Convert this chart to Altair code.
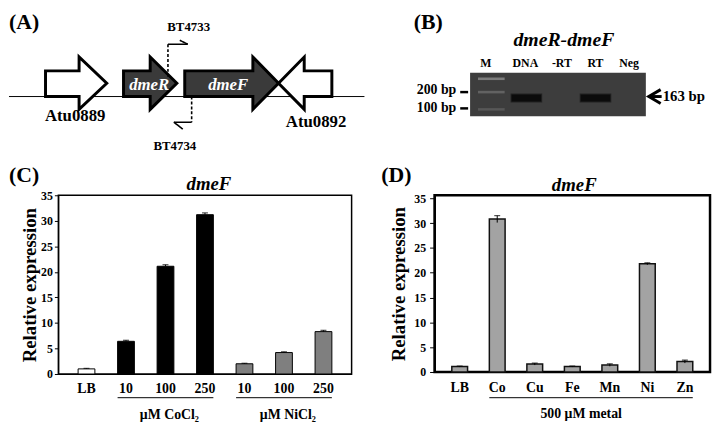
import altair as alt
import pandas as pd

SERIF = "Liberation Serif"

# ---------------- data ----------------
panel_labels = ["(A)", "(B)", "(C)", "(D)"]

# Panel A: gene map (map units)
gene_names = ["Atu0889", "dmeR", "dmeF", "Atu0892"]
gene_tail = [37, 116, 178, 327]
gene_headbase = [71, 143, 247, 299]
gene_tip = [99, 170, 273, 273]
gene_kind = ["flank", "operon", "operon", "flank"]
body_edges = [61, 87]
head_edges = [47, 100]
arrow_axis = 73.5
baseline_span = [0, 360, 87]
gene_label_x = [67, 311]
gene_label_y = [107, 113]
inner_label_x = [142, 222]
inner_label_y = [75, 75]

primer_names = ["BT4733", "BT4734"]
primer_label_x = [182, 168]
primer_label_y = [17, 137]
primer_seg_id = ["a_stem", "a_bend", "a_barb", "b_stem", "b_bend", "b_barb"]
primer_seg_style = ["dash", "solid", "solid", "dash", "solid", "solid"]
primer_seg_x = [[161, 161], [161, 181], [173, 181], [185, 185], [185, 167], [167, 176]]
primer_seg_y = [[67, 34], [34, 34], [30, 34], [87, 113], [113, 113], [113, 120]]

# Panel B: gel
gel_title = "dmeR-dmeF"
gel_box = [475, 653, 63, 107]
lanes = ["M", "DNA", "-RT", "RT", "Neg"]
lane_x = [491, 531, 568, 602, 636]
marker_band_y = [69, 82.5, 100]
marker_band_shade = ["#7c7c7c", "#626262", "#575757"]
marker_band_x = [483, 510]
product_band_x = [[517, 547], [587, 617]]
product_band_y = [85, 92]
ladder_labels = ["200 bp", "100 bp"]
ladder_y = [82.5, 99]
ladder_tick_x = [465, 473]
product_label = "163 bp"
product_y = 87

# Panel C
c_ids = ["LB", "Co10", "Co100", "Co250", "Ni10", "Ni100", "Ni250"]
c_groups = ["LB", "Co", "Co", "Co", "Ni", "Ni", "Ni"]
c_values = [1.0, 6.4, 21.1, 31.2, 2.0, 4.2, 8.3]
c_errors = [0.1, 0.2, 0.3, 0.35, 0.1, 0.15, 0.25]
c_group_start = ["Co10", "Ni10"]
c_group_end = ["Co250", "Ni250"]
c_group_mid = ["Co100", "Ni100"]
c_group_label = ["μM CoCl₂", "μM NiCl₂"]

# Panel D
d_metals = ["LB", "Co", "Cu", "Fe", "Mn", "Ni", "Zn"]
d_values = [1.1, 30.8, 1.6, 1.1, 1.4, 21.8, 2.1]
d_errors = [0.1, 0.7, 0.2, 0.1, 0.25, 0.2, 0.3]
d_group_label = ["500 μM metal"]

gene_title = "dmeF"
y_title = "Relative expression"
y_ticks = [0, 5, 10, 15, 20, 25, 30, 35]

# ---------------- panel A ----------------
AX0, AW, AH = 50, 297, 152
ax_x = alt.Scale(domain=[AX0, AX0 + AW], nice=False, zero=False)
ax_y = alt.Scale(domain=[AH, 0], nice=False, zero=False)

rows = []
for g, t, hb, tip, k in zip(gene_names, gene_tail, gene_headbase, gene_tip, gene_kind):
    if tip > t:
        pts = [(t, body_edges), (hb, body_edges), (hb + 0.01, head_edges), (tip, [arrow_axis, arrow_axis])]
    else:
        pts = [(tip, [arrow_axis, arrow_axis]), (hb, head_edges), (hb + 0.01, body_edges), (t, body_edges)]
    for x, (y0, y1) in pts:
        rows.append({"gene": g, "kind": k, "x": x, "y": y0, "y2": y1})
arrows_df = pd.DataFrame(rows)

arrowsA = alt.Chart(arrows_df).mark_area(
    stroke="black", strokeWidth=3, strokeJoin="miter", strokeMiterLimit=10, opacity=1
).encode(
    x=alt.X("x:Q", scale=ax_x, axis=None),
    y=alt.Y("y:Q", scale=ax_y, axis=None, stack=None),
    y2="y2:Q",
    detail="gene:N",
    fill=alt.Fill("kind:N", scale=alt.Scale(domain=["flank", "operon"], range=["white", "#3a3a3a"]), legend=None),
)

base_df = pd.DataFrame({"x": [baseline_span[0]], "x2": [baseline_span[1]], "y": [baseline_span[2]]})
baseA = alt.Chart(base_df).mark_rule(color="black", strokeWidth=1).encode(
    x=alt.X("x:Q", scale=ax_x, axis=None), x2="x2:Q", y=alt.Y("y:Q", scale=ax_y, axis=None)
)

prow = []
for sid, st, xs, ys in zip(primer_seg_id, primer_seg_style, primer_seg_x, primer_seg_y):
    for i, (x, y) in enumerate(zip(xs, ys)):
        prow.append({"seg": sid, "style": st, "x": x, "y": y, "o": i})
primer_df = pd.DataFrame(prow)
primersA = alt.Chart(primer_df).mark_line(color="black", strokeWidth=1.6).encode(
    x=alt.X("x:Q", scale=ax_x, axis=None),
    y=alt.Y("y:Q", scale=ax_y, axis=None),
    detail="seg:N",
    order="o:Q",
    strokeDash=alt.StrokeDash("style:N", scale=alt.Scale(domain=["dash", "solid"], range=[[3, 2], [1, 0]]), legend=None),
)

glab_df = pd.DataFrame({"t": [gene_names[0], gene_names[3]], "x": gene_label_x, "y": gene_label_y})
glabA = alt.Chart(glab_df).mark_text(font=SERIF, fontWeight="bold", fontSize=17, baseline="middle", color="black").encode(
    x=alt.X("x:Q", scale=ax_x, axis=None), y=alt.Y("y:Q", scale=ax_y, axis=None), text="t:N")

ilab_df = pd.DataFrame({"t": [gene_names[1], gene_names[2]], "x": inner_label_x, "y": inner_label_y})
ilabA = alt.Chart(ilab_df).mark_text(font=SERIF, fontWeight="bold", fontStyle="italic", fontSize=17, baseline="middle", color="white").encode(
    x=alt.X("x:Q", scale=ax_x, axis=None), y=alt.Y("y:Q", scale=ax_y, axis=None), text="t:N")

plab_df = pd.DataFrame({"t": primer_names, "x": primer_label_x, "y": primer_label_y})
plabA = alt.Chart(plab_df).mark_text(font=SERIF, fontWeight="bold", fontSize=13, baseline="middle", color="black").encode(
    x=alt.X("x:Q", scale=ax_x, axis=None), y=alt.Y("y:Q", scale=ax_y, axis=None), text="t:N")

tagA = alt.Chart(pd.DataFrame({"t": [panel_labels[0]]})).mark_text(
    font=SERIF, fontWeight="bold", fontSize=22, align="left", baseline="middle", color="black"
).encode(x=alt.value(-AX0), y=alt.value(12), text="t:N")

panelA = alt.layer(baseA, arrowsA, primersA, glabA, ilabA, plabA, tagA).properties(width=AW, height=AH)

# ---------------- panel B ----------------
BX0, BW, BH = 439, 281, 152
bx = alt.Scale(domain=[BX0, BX0 + BW], nice=False, zero=False)
by = alt.Scale(domain=[BH, 0], nice=False, zero=False)

rects = [{"x": gel_box[0], "x2": gel_box[1], "y": gel_box[2], "y2": gel_box[3], "c": "#3d3d3d"}]
for yy, sh in zip(marker_band_y, marker_band_shade):
    rects.append({"x": marker_band_x[0], "x2": marker_band_x[1], "y": yy - 1.3, "y2": yy + 1.3, "c": sh})
for xs in product_band_x:
    rects.append({"x": xs[0] - 1, "x2": xs[1] + 1, "y": product_band_y[0] - 1, "y2": product_band_y[1] + 1, "c": "#222222"})
    rects.append({"x": xs[0], "x2": xs[1], "y": product_band_y[0], "y2": product_band_y[1], "c": "#0b0b0b"})
rects_df = pd.DataFrame(rects)
rects_df["o"] = range(len(rects_df))
gelB = alt.Chart(rects_df).mark_rect().encode(
    x=alt.X("x:Q", scale=bx, axis=None), x2="x2:Q",
    y=alt.Y("y:Q", scale=by, axis=None), y2="y2:Q",
    fill=alt.Fill("c:N", scale=None), order="o:Q",
)

tick_df = pd.DataFrame({"x": [ladder_tick_x[0]] * 2, "x2": [ladder_tick_x[1]] * 2, "y": ladder_y})
ticksB = alt.Chart(tick_df).mark_rule(color="black", strokeWidth=2.5).encode(
    x=alt.X("x:Q", scale=bx, axis=None), x2="x2:Q", y=alt.Y("y:Q", scale=by, axis=None))

ladlab_df = pd.DataFrame({"t": ladder_labels, "x": [ladder_tick_x[0] - 4] * 2, "y": [ladder_y[0] - 2, ladder_y[1]]})
ladlabB = alt.Chart(ladlab_df).mark_text(font=SERIF, fontWeight="bold", fontSize=14, align="right", baseline="middle", color="black").encode(
    x=alt.X("x:Q", scale=bx, axis=None), y=alt.Y("y:Q", scale=by, axis=None), text="t:N")

lane_df = pd.DataFrame({"t": lanes, "x": lane_x, "y": [53] * len(lanes)})
laneB = alt.Chart(lane_df).mark_text(font=SERIF, fontWeight="bold", fontSize=12, baseline="middle", color="black").encode(
    x=alt.X("x:Q", scale=bx, axis=None), y=alt.Y("y:Q", scale=by, axis=None), text="t:N")

title_df = pd.DataFrame({"t": [gel_title], "x": [570], "y": [30]})
titleB = alt.Chart(title_df).mark_text(font=SERIF, fontWeight="bold", fontStyle="italic", fontSize=20, baseline="middle", color="black").encode(
    x=alt.X("x:Q", scale=bx, axis=None), y=alt.Y("y:Q", scale=by, axis=None), text="t:N")

chev_df = pd.DataFrame({
    "seg": ["v", "v", "v", "s", "s"],
    "x": [668, 656, 668, 657, 669],
    "y": [product_y - 7, product_y, product_y + 7, product_y, product_y],
    "o": [0, 1, 2, 0, 1],
})
chevB = alt.Chart(chev_df).mark_line(color="black", strokeWidth=3, strokeJoin="miter").encode(
    x=alt.X("x:Q", scale=bx, axis=None), y=alt.Y("y:Q", scale=by, axis=None), detail="seg:N", order="o:Q")

prod_df = pd.DataFrame({"t": [product_label], "x": [670], "y": [product_y]})
prodB = alt.Chart(prod_df).mark_text(font=SERIF, fontWeight="bold", fontSize=15, align="left", baseline="middle", color="black").encode(
    x=alt.X("x:Q", scale=bx, axis=None), y=alt.Y("y:Q", scale=by, axis=None), text="t:N")

tagB = alt.Chart(pd.DataFrame({"t": [panel_labels[1]]})).mark_text(
    font=SERIF, fontWeight="bold", fontSize=22, align="left", baseline="middle", color="black"
).encode(x=alt.value(-21), y=alt.value(12), text="t:N")

panelB = alt.layer(gelB, ticksB, ladlabB, laneB, titleB, chevB, prodB, tagB).properties(width=BW, height=BH)

# ---------------- panel C ----------------
CW, CH = 297, 181
c_df = pd.DataFrame({"id": c_ids, "group": c_groups, "value": c_values, "err": c_errors})
c_df["hi"] = c_df["value"] + c_df["err"]

xC_axis = alt.Axis(title=None, labelAngle=0, ticks=False, tickSize=0, labelPadding=8, labelFontSize=14,
                   labelExpr="replace(replace(datum.value,'Co',''),'Ni','')")
yC_axis = alt.Axis(values=y_ticks, title=y_title, labelOverlap=False, tickSize=4, labelPadding=2,
                   titlePadding=1, labelFontSize=12, titleFontSize=19)
xC_scale = alt.Scale(domain=c_ids, paddingInner=0.575, paddingOuter=0.5)
yC_scale = alt.Scale(domain=[0, 35], nice=False)

barsC = alt.Chart(c_df).mark_bar(stroke="black", strokeWidth=1).encode(
    x=alt.X("id:N", scale=xC_scale, axis=xC_axis),
    y=alt.Y("value:Q", scale=yC_scale, axis=yC_axis),
    fill=alt.Fill("group:N", scale=alt.Scale(domain=["LB", "Co", "Ni"], range=["white", "black", "#7f7f7f"]), legend=None),
)
errC = alt.Chart(c_df).mark_rule(color="black", strokeWidth=1).encode(
    x=alt.X("id:N", scale=xC_scale, axis=xC_axis),
    y=alt.Y("value:Q", scale=yC_scale, axis=yC_axis), y2="hi:Q")
capC = alt.Chart(c_df).mark_tick(color="black", thickness=1.2, size=6).encode(
    x=alt.X("id:N", scale=xC_scale, axis=xC_axis),
    y=alt.Y("hi:Q", scale=yC_scale, axis=yC_axis))

cg_df = pd.DataFrame({"s": c_group_start, "e": c_group_end, "m": c_group_mid, "t": c_group_label})
grpLineC = alt.Chart(cg_df).mark_rule(color="black", strokeWidth=1, xOffset=-8.5, x2Offset=8.5).encode(
    x=alt.X("s:N", scale=xC_scale, axis=xC_axis), x2="e:N", y=alt.value(CH + 24))
grpTextC = alt.Chart(cg_df).mark_text(font=SERIF, fontWeight="bold", fontSize=14, baseline="middle", dx=4, color="black").encode(
    x=alt.X("m:N", scale=xC_scale, axis=xC_axis), y=alt.value(CH + 42), text="t:N")
tagC = alt.Chart(pd.DataFrame({"t": [panel_labels[2]]})).mark_text(
    font=SERIF, fontWeight="bold", fontSize=22, align="left", baseline="middle", color="black"
).encode(x=alt.value(-50), y=alt.value(-20), text="t:N")
titleC = alt.Chart(pd.DataFrame({"t": [gene_title]})).mark_text(
    font=SERIF, fontWeight="bold", fontStyle="italic", fontSize=19, baseline="middle", color="black"
).encode(x=alt.value(CW / 2 + 4), y=alt.value(-11), text="t:N")

panelC = alt.layer(barsC, errC, capC, grpLineC, grpTextC, tagC, titleC).properties(
    width=CW, height=CH, view=alt.ViewBackground(stroke="black", strokeWidth=1.5),
)

# ---------------- panel D ----------------
DW, DH = 279, 179
d_df = pd.DataFrame({"metal": d_metals, "value": d_values, "err": d_errors})
d_df["lo"] = d_df["value"] - d_df["err"]
d_df["hi"] = d_df["value"] + d_df["err"]

xD_axis = alt.Axis(title=None, labelAngle=0, ticks=False, tickSize=0, labelPadding=9, labelFontSize=14)
yD_axis = alt.Axis(values=y_ticks, title=y_title, labelOverlap=False, tickSize=5, labelPadding=4,
                   titlePadding=5, labelFontSize=12, titleFontSize=19, domainWidth=2)
xD_scale = alt.Scale(domain=d_metals, paddingInner=0.58, paddingOuter=0.46)
yD_scale = alt.Scale(domain=[0, 35.6], nice=False)

barsD = alt.Chart(d_df).mark_bar(stroke="#111111", strokeWidth=1.5, fill="#a3a3a3").encode(
    x=alt.X("metal:N", scale=xD_scale, axis=xD_axis),
    y=alt.Y("value:Q", scale=yD_scale, axis=yD_axis),
)
errD = alt.Chart(d_df).mark_rule(color="black", strokeWidth=1).encode(
    x=alt.X("metal:N", scale=xD_scale, axis=xD_axis),
    y=alt.Y("lo:Q", scale=yD_scale, axis=yD_axis), y2="hi:Q")
capD = alt.Chart(d_df).mark_tick(color="black", thickness=1.2, size=6).encode(
    x=alt.X("metal:N", scale=xD_scale, axis=xD_axis),
    y=alt.Y("hi:Q", scale=yD_scale, axis=yD_axis))

dg_df = pd.DataFrame({"s": ["Co"], "e": ["Zn"], "m": ["Fe"], "t": d_group_label})
grpLineD = alt.Chart(dg_df).mark_rule(color="black", strokeWidth=1, xOffset=-8, x2Offset=8).encode(
    x=alt.X("s:N", scale=xD_scale, axis=xD_axis), x2="e:N", y=alt.value(DH + 26))
grpTextD = alt.Chart(dg_df).mark_text(font=SERIF, fontWeight="bold", fontSize=14, baseline="middle", dx=9, color="black").encode(
    x=alt.X("m:N", scale=xD_scale, axis=xD_axis), y=alt.value(DH + 43), text="t:N")
tagD = alt.Chart(pd.DataFrame({"t": [panel_labels[3]]})).mark_text(
    font=SERIF, fontWeight="bold", fontSize=22, align="left", baseline="middle", color="black"
).encode(x=alt.value(-54), y=alt.value(-20), text="t:N")
titleD = alt.Chart(pd.DataFrame({"t": [gene_title]})).mark_text(
    font=SERIF, fontWeight="bold", fontStyle="italic", fontSize=19, baseline="middle", color="black"
).encode(x=alt.value(DW / 2 + 2), y=alt.value(-10), text="t:N")

panelD = alt.layer(barsD, errD, capD, grpLineD, grpTextD, tagD, titleD).properties(
    width=DW, height=DH, view=alt.ViewBackground(stroke="black", strokeWidth=2.5),
)

# ---------------- layout ----------------
chart = alt.concat(
    panelA, panelB, panelC, panelD,
    columns=2, spacing=alt.RowColnumber(row=6, column=84), bounds="flush", align="all",
).resolve_scale(fill="independent").properties(padding=0, background="white").configure_view(stroke=None).configure_axis(
    labelFont=SERIF, titleFont=SERIF, labelFontWeight="bold", titleFontWeight="bold",
    labelColor="black", titleColor="black", domainColor="black", tickColor="black", grid=False,
)

chart.save("out.html", embed_options={"renderer": "svg", "actions": False})
